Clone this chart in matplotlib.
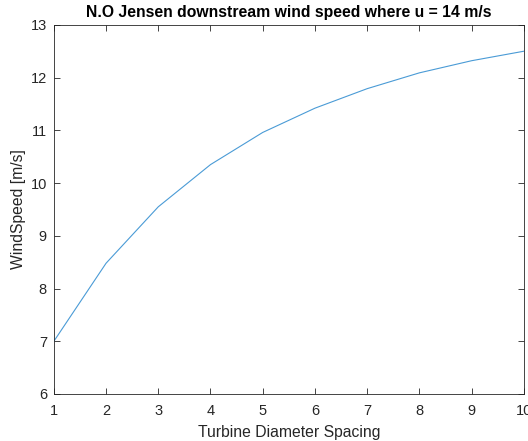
import matplotlib
matplotlib.use('Agg')
import matplotlib.pyplot as plt

plt.rcParams['font.family'] = ['Liberation Sans', 'DejaVu Sans']

# Downstream wind speed from the N.O. Jensen wake model, free stream u = 14 m/s
spacing = [1, 2, 3, 4, 5, 6, 7, 8, 9, 10]
wind_speed = [7.0, 8.48, 9.55, 10.35, 10.96, 11.42, 11.79, 12.09, 12.32, 12.50]

fig = plt.figure(figsize=(5.28, 4.41), dpi=100)
ax = fig.add_axes([0.102, 0.1066, 0.890, 0.837])

ax.plot(spacing, wind_speed, color='#4a9bd6', linewidth=0.8)

ax.set_xlim(1, 10)
ax.set_ylim(6, 13)
ax.set_xticks(range(1, 11))
ax.set_yticks(range(6, 14))

axis_color = '#262626'
for side in ax.spines.values():
    side.set_color(axis_color)
    side.set_linewidth(0.6)
ax.tick_params(direction='in', length=4, width=0.6, top=True, right=True,
               colors=axis_color, labelsize=10.5)
ax.tick_params(axis='x', pad=7)
ax.tick_params(axis='y', pad=5)

ax.set_title('N.O Jensen downstream wind speed where u = 14 m/s',
             fontsize=11.3, fontweight='bold', pad=6)
ax.set_xlabel('Turbine Diameter Spacing', fontsize=11.3, color=axis_color, labelpad=5)
ax.set_ylabel('WindSpeed [m/s]', fontsize=11.3, color=axis_color, labelpad=3)

fig.savefig('out.png', dpi=100)
